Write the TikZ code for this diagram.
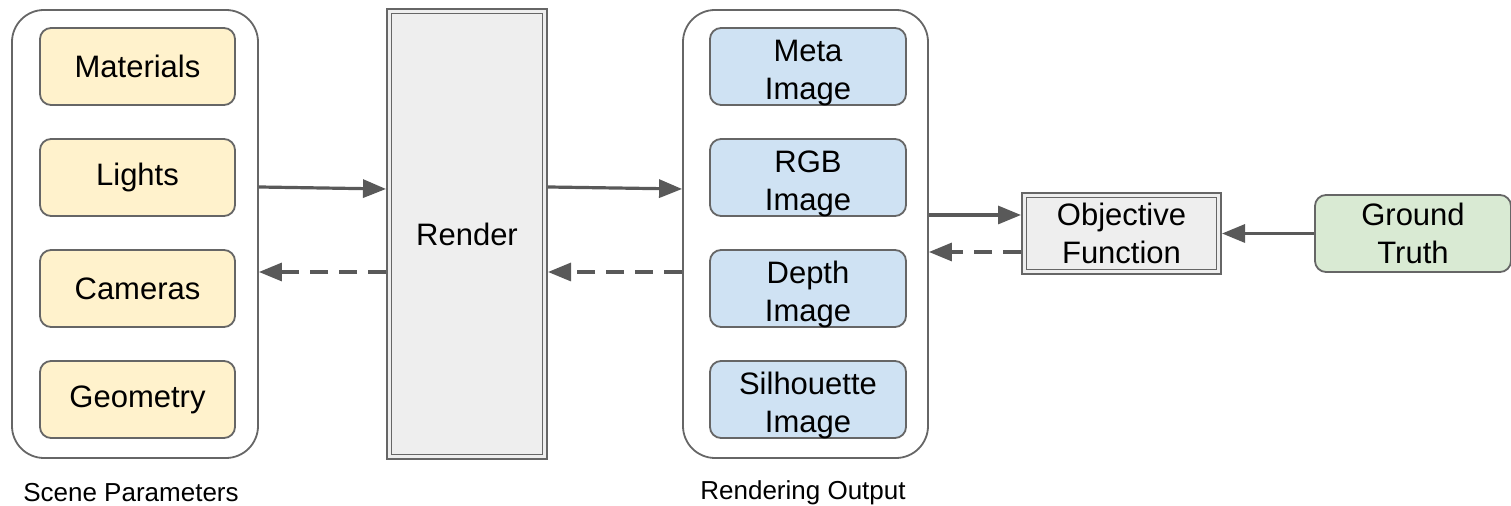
\documentclass[tikz,border=0pt]{standalone}
\usepackage{fontspec}
\setmainfont{Liberation Sans}
\usetikzlibrary{arrows.meta}
\definecolor{bordergray}{HTML}{666666}
\definecolor{arrowgray}{HTML}{595959}
\definecolor{yellowfill}{HTML}{FFF2CC}
\definecolor{bluefill}{HTML}{CFE2F3}
\definecolor{greenfill}{HTML}{D9EAD3}
\definecolor{grayfill}{HTML}{EEEEEE}
\newcommand{\lowtext}[2]{\raisebox{-3pt}[\height][\depth]{\begin{tabular}{@{}c@{}}#1\\#2\end{tabular}}}
\tikzset{
  container/.style={draw=bordergray, line width=0.9pt, rounded corners=16pt, minimum width=123pt, minimum height=224pt},
  item/.style={draw=bordergray, line width=0.9pt, rounded corners=5.5pt, minimum width=97.5pt, minimum height=38.5pt, align=center, inner sep=0pt, font=\fontsize{15.5}{19}\selectfont},
  yellowitem/.style={item, fill=yellowfill},
  blueitem/.style={item, fill=bluefill, minimum width=98pt},
  greenitem/.style={item, fill=greenfill, minimum width=98pt},
  dblbox/.style={draw=bordergray, line width=0.8pt, double=grayfill, double distance=1.5pt, fill=grayfill, outer sep=1.55pt, align=center, inner sep=0pt, font=\fontsize{15.5}{19}\selectfont},
  caption/.style={font=\fontsize{13}{15}\selectfont, inner sep=0pt},
  arr/.style={draw=arrowgray, line width=1.6pt, -{Triangle[length=11.5pt,width=9pt]}},
  dasharr/.style={arr, dash pattern=on 9pt off 5.5pt},
}
\begin{document}
\begin{tikzpicture}[x=0.5pt,y=-0.5pt]
\useasboundingbox (0,0) rectangle (1511,506);
% containers
\node[container] (scene) at (135,234) {};
\node[container, minimum width=122.5pt] (output) at (805.5,234) {};
% scene parameters
\node[yellowitem] (materials) at (137.5,66.5) {Materials};
\node[yellowitem] (lights) at (137.5,177.5) {Lights};
\node[yellowitem] (cameras) at (137.5,288.5) {Cameras};
\node[yellowitem] (geometry) at (137.5,399.5) {Geometry};
% render
\node[dblbox, minimum width=77.9pt, minimum height=222.9pt] (render) at (467,234) {Render};
% rendering outputs
\node[blueitem] (meta) at (808,66.5) {\lowtext{Meta}{Image}};
\node[blueitem] (rgb) at (808,177.5) {\lowtext{RGB}{Image}};
\node[blueitem] (depth) at (808,288.5) {\lowtext{Depth}{Image}};
\node[blueitem] (silhouette) at (808,399.5) {\lowtext{Silhouette}{Image}};
% objective and ground truth
\node[dblbox, minimum width=97.4pt, minimum height=38.4pt] (objective) at (1121.5,233.5) {Objective\\Function};
\node[greenitem] (truth) at (1413,233.5) {Ground\\Truth};
% captions
\node[caption] (scenelabel) at (131,493) {Scene Parameters};
\node[caption] (outputlabel) at (803,493) {Rendering Output};
% connectors
\draw[arr] ([yshift=23.5pt]scene.east) -- ([yshift=22.5pt]render.west);
\draw[dasharr] ([yshift=-19pt]render.west) -- ([yshift=-19pt]scene.east);
\draw[arr] ([yshift=23.5pt]render.east) -- ([yshift=22.5pt]output.west);
\draw[dasharr] ([yshift=-19pt]output.west) -- ([yshift=-19pt]render.east);
\draw[arr] ([yshift=9.5pt]output.east) -- ([yshift=9.25pt]objective.west);
\draw[dasharr] ([yshift=-9.25pt]objective.west) -- ([yshift=-9pt]output.east);
\draw[arr] (truth.west) -- (objective.east);
\end{tikzpicture}
\end{document}
